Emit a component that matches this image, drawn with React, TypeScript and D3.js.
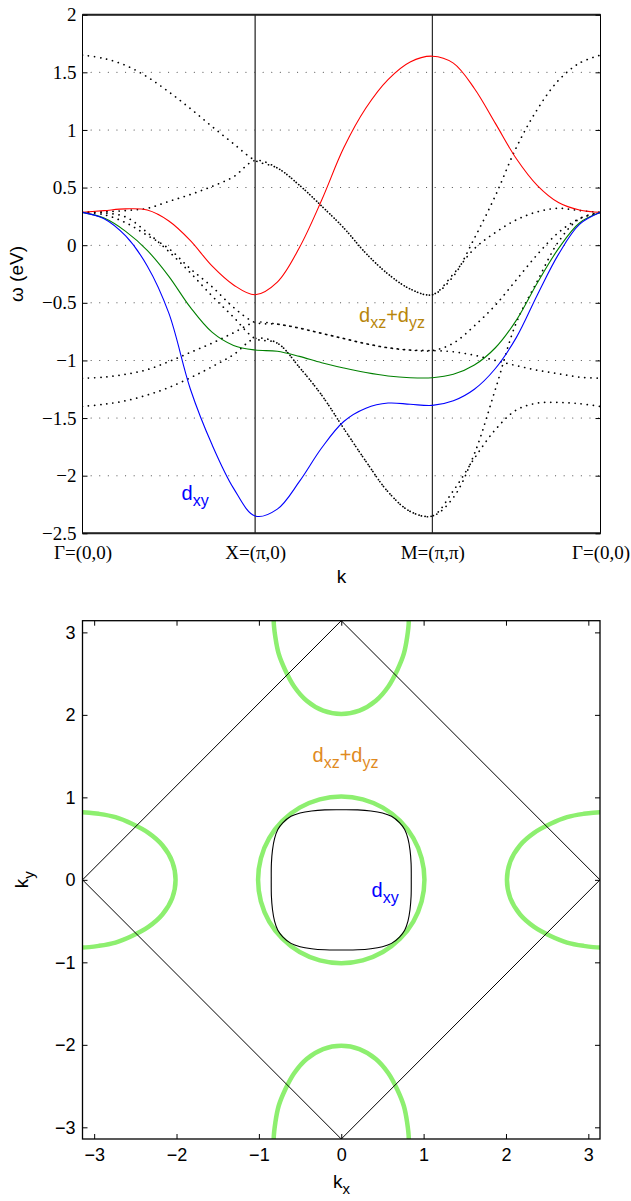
import React, { useEffect, useRef } from 'react';
import * as d3 from 'd3';

const PI = Math.PI;

// high-symmetry points along the path, in path units
const symK = [0, 1, 2.026, 3];
const symLabels = ['Γ=(0,0)', 'X=(π,0)', 'M=(π,π)', 'Γ=(0,0)'];
const stepsPerLeg = 8;

const omegaTicks = [2, 1.5, 1, 0.5, 0, -0.5, -1, -1.5, -2, -2.5];

// solid bands (eV), 8 samples per leg Γ-X-M-Γ
const redBand = [0.285, 0.3, 0.315, 0.305, 0.21, 0.04, -0.18, -0.345, -0.43,
  -0.32, -0.02, 0.39, 0.845, 1.19, 1.437, 1.59, 1.64,
  1.58, 1.36, 1.057, 0.75, 0.517, 0.37, 0.305, 0.285];
const greenBand = [0.285, 0.235, 0.12, -0.045, -0.27, -0.54, -0.755, -0.87, -0.91,
  -0.92, -0.965, -1.02, -1.065, -1.105, -1.135, -1.15, -1.15,
  -1.12, -1.04, -0.89, -0.65, -0.326, -0.03, 0.193, 0.285];
const blueBand = [0.285, 0.23, 0.08, -0.18, -0.59, -1.25, -1.73, -2.11, -2.35,
  -2.29, -2.05, -1.76, -1.53, -1.415, -1.37, -1.38, -1.39,
  -1.35, -1.25, -1.07, -0.8, -0.43, -0.08, 0.18, 0.285];

// dotted bands
const dotBand1 = [1.65, 1.62, 1.56, 1.46, 1.33, 1.185, 1.03, 0.88, 0.735,
  0.67, 0.52, 0.34, 0.15, -0.07, -0.25, -0.38, -0.43,
  -0.27, 0.06, 0.43, 0.85, 1.18, 1.43, 1.58, 1.65];
const dotBand2 = [0.285, 0.29, 0.3, 0.32, 0.38, 0.44, 0.51, 0.594, 0.735,
  0.67, 0.52, 0.34, 0.15, -0.07, -0.25, -0.38, -0.43,
  -0.25, -0.03, 0.11, 0.22, 0.29, 0.32, 0.3, 0.285];
const dotBand3 = [0.285, 0.265, 0.195, 0.085, -0.03, -0.205, -0.36, -0.54, -0.67,
  -0.685, -0.72, -0.765, -0.81, -0.855, -0.89, -0.91, -0.915,
  -0.85, -0.7, -0.52, -0.3, -0.08, 0.11, 0.23, 0.285];
const dotBand4 = [-1.155, -1.145, -1.12, -1.08, -1.01, -0.93, -0.85, -0.76, -0.67,
  -0.685, -0.72, -0.765, -0.81, -0.855, -0.89, -0.91, -0.915,
  -0.925, -0.955, -1.0, -1.045, -1.085, -1.115, -1.145, -1.155];
const dotBand5 = [0.285, 0.28, 0.245, 0.11, -0.055, -0.24, -0.44, -0.625, -0.81,
  -0.85, -1.06, -1.3, -1.59, -1.875, -2.14, -2.31, -2.35,
  -2.19, -1.81, -1.25, -0.67, -0.31, 0.03, 0.23, 0.285];
const dotBand6 = [-1.4, -1.38, -1.35, -1.3, -1.235, -1.15, -1.055, -0.95, -0.81,
  -0.85, -1.06, -1.3, -1.59, -1.875, -2.14, -2.31, -2.35,
  -2.13, -1.85, -1.6, -1.43, -1.37, -1.365, -1.375, -1.4];

const solidBands = [
  { values: redBand, color: '#ff0000' },
  { values: greenBand, color: '#008000' },
  { values: blueBand, color: '#0000ff' },
];
const dottedBands = [dotBand1, dotBand2, dotBand3, dotBand4, dotBand5, dotBand6];

// Fermi surface panel
const kTicks = [-3, -2, -1, 0, 1, 2, 3];
const bzCorners: [number, number][] = [[0, PI], [PI, 0], [0, -PI], [-PI, 0]];
// first quadrant of the dxy pocket, from +kx axis to +ky axis
const dxyQuarter: [number, number][] = [[0.85, 0], [0.848, 0.2], [0.835, 0.36], [0.81, 0.5],
  [0.77, 0.61], [0.71, 0.69], [0.61, 0.77], [0.5, 0.81], [0.36, 0.835], [0.2, 0.848], [0, 0.85]];
// first quadrant of the central green ring
const ringQuarter: [number, number][] = [[1.01, 0], [0.976, 0.261], [0.875, 0.505], [0.714, 0.714],
  [0.505, 0.875], [0.261, 0.976], [0, 1.01]];
// zone-edge pockets: [across, depth] from the zone boundary
const pocketQuarter: [number, number][] = [[0.82, 0], [0.8, 0.2], [0.76, 0.4], [0.68, 0.6],
  [0.57, 0.8], [0.42, 0.97], [0.22, 1.09], [0, 1.13]];
const pocketCenters: [number, number, string][] = [[0, PI, 'v'], [0, -PI, 'v'], [-PI, 0, 'h'], [PI, 0, 'h']];

const kGrid = d3.range(symK.length - 1)
  .flatMap((i) => d3.range(stepsPerLeg).map((j) => symK[i] + ((symK[i + 1] - symK[i]) * j) / stepsPerLeg))
  .concat(symK[symK.length - 1]);

function mirror(q: [number, number][]): [number, number][] {
  const n = q.length;
  const out: [number, number][] = [];
  q.forEach(([a, b]) => out.push([a, b]));
  for (let i = n - 2; i >= 0; i--) out.push([-q[i][0], q[i][1]]);
  for (let i = 1; i < n; i++) out.push([-q[i][0], -q[i][1]]);
  for (let i = n - 2; i >= 1; i--) out.push([q[i][0], -q[i][1]]);
  return out;
}

const SERIF = '"Liberation Serif", "Times New Roman", serif';
const SANS = '"Liberation Sans", Arial, Helvetica, sans-serif';

function subLabel(g: any, x: number, y: number, parts: [string, boolean][], color: string, size: number) {
  const t = g.append('text').attr('x', x).attr('y', y).attr('fill', color)
    .style('font-family', SANS).style('font-size', `${size}px`);
  let down = false;
  parts.forEach(([s, sub]) => {
    const ts = t.append('tspan').text(s);
    if (sub && !down) { ts.attr('dy', 6).style('font-size', `${size - 4}px`); down = true; }
    else if (!sub && down) { ts.attr('dy', -6); down = false; }
    else if (sub) ts.style('font-size', `${size - 4}px`);
  });
  return t;
}

function BandsAndFermi() {
  const ref = useRef<SVGSVGElement>(null);

  useEffect(() => {
    const svg = d3.select(ref.current);
    svg.selectAll('*').remove();

    // ---------- top: band structure ----------
    const tp = { left: 82.5, right: 600.5, top: 14.7, bottom: 533.3 };
    const x = d3.scaleLinear().domain([0, 3]).range([tp.left, tp.right]);
    const y = d3.scaleLinear().domain([-2.5, 2]).range([tp.bottom, tp.top]);

    svg.append('clipPath').attr('id', 'clipTop').append('rect')
      .attr('x', tp.left).attr('y', tp.top).attr('width', tp.right - tp.left).attr('height', tp.bottom - tp.top);

    const gTop = svg.append('g');

    gTop.append('g').selectAll('line')
      .data(omegaTicks.filter((d) => d < 2 && d > -2.5))
      .join('line')
      .attr('x1', tp.left).attr('x2', tp.right)
      .attr('y1', (d) => y(d)).attr('y2', (d) => y(d))
      .attr('stroke', '#444').attr('stroke-width', 1.1)
      .attr('stroke-linecap', 'round').attr('stroke-dasharray', '0.1,8.5');

    const bandLine = d3.line<number>()
      .x((d, i) => x(kGrid[i]))
      .y((d) => y(d))
      .curve(d3.curveCatmullRom.alpha(0.5));

    const plot = gTop.append('g').attr('clip-path', 'url(#clipTop)');

    plot.selectAll('path.dot')
      .data(dottedBands)
      .join('path')
      .attr('class', 'dot')
      .attr('d', (d) => bandLine(d))
      .attr('fill', 'none').attr('stroke', '#000').attr('stroke-width', 1.7)
      .attr('stroke-linecap', 'round').attr('stroke-dasharray', '0.1,6');

    // X and M markers
    plot.append('line').attr('x1', x(symK[1])).attr('x2', x(symK[1]))
      .attr('y1', tp.top).attr('y2', tp.bottom).attr('stroke', '#555').attr('stroke-width', 1.6);
    plot.append('line').attr('x1', x(symK[2])).attr('x2', x(symK[2]))
      .attr('y1', tp.top).attr('y2', tp.bottom).attr('stroke', '#000').attr('stroke-width', 1);

    plot.selectAll('path.solid')
      .data(solidBands)
      .join('path')
      .attr('class', 'solid')
      .attr('d', (d) => bandLine(d.values))
      .attr('fill', 'none').attr('stroke', (d) => d.color).attr('stroke-width', 1.1);

    gTop.append('rect').attr('x', tp.left).attr('y', tp.top)
      .attr('width', tp.right - tp.left).attr('height', tp.bottom - tp.top)
      .attr('fill', 'none').attr('stroke', '#000').attr('stroke-width', 1);
    [tp.top, tp.bottom].forEach((yy) => {
      gTop.append('line').attr('x1', tp.left).attr('x2', tp.right).attr('y1', yy).attr('y2', yy)
        .attr('stroke', '#222').attr('stroke-width', 2);
    });

    const yAxisTop = gTop.append('g').attr('transform', `translate(${tp.left},0)`)
      .call(d3.axisLeft(y).tickValues(omegaTicks).tickSize(-5).tickSizeOuter(0).tickPadding(6).tickFormat(d3.format('')));
    yAxisTop.select('.domain').remove();
    yAxisTop.selectAll('text').style('font-family', SERIF).style('font-size', '19px').attr('fill', '#000');

    const yAxisTopR = gTop.append('g').attr('transform', `translate(${tp.right},0)`)
      .call(d3.axisRight(y).tickValues(omegaTicks).tickSize(-5).tickSizeOuter(0).tickFormat(() => ''));
    yAxisTopR.select('.domain').remove();

    const xAxisTop = gTop.append('g').attr('transform', `translate(0,${tp.bottom})`)
      .call(d3.axisBottom(x).tickValues(symK).tickSize(0).tickSizeOuter(0).tickPadding(12)
        .tickFormat((d, i) => symLabels[i]));
    xAxisTop.select('.domain').remove();
    xAxisTop.selectAll('text').style('font-family', SERIF).style('font-size', '19px').attr('fill', '#000');

    gTop.append('text').attr('x', 341.5).attr('y', 583).attr('text-anchor', 'middle')
      .style('font-family', SANS).style('font-size', '19px').text('k');
    gTop.append('text').attr('transform', `translate(23,${(tp.top + tp.bottom) / 2}) rotate(-90)`)
      .attr('text-anchor', 'middle').style('font-family', SANS).style('font-size', '19px').text('ω (eV)');

    subLabel(gTop, 181.5, 500, [['d', false], ['xy', true]], '#0000ff', 20);
    subLabel(gTop, 359, 321.5, [['d', false], ['xz', true], ['+d', false], ['yz', true]], '#b8860b', 20);

    // ---------- bottom: Fermi surface ----------
    const bp = { left: 82.5, right: 600, top: 620.7, bottom: 1139 };
    const kx = d3.scaleLinear().domain([-PI, PI]).range([bp.left, bp.right]);
    const ky = d3.scaleLinear().domain([-PI, PI]).range([bp.bottom, bp.top]);

    svg.append('clipPath').attr('id', 'clipBot').append('rect')
      .attr('x', bp.left).attr('y', bp.top).attr('width', bp.right - bp.left).attr('height', bp.bottom - bp.top);

    const gBot = svg.append('g');
    const fs = gBot.append('g').attr('clip-path', 'url(#clipBot)');

    const closedLine = d3.line<[number, number]>()
      .x((d) => kx(d[0])).y((d) => ky(d[1]))
      .curve(d3.curveCatmullRomClosed.alpha(0.5));

    const ring = mirror(ringQuarter);
    const pocketRing = mirror(pocketQuarter);
    const pockets = pocketCenters.map(([cx, cy, o]) =>
      pocketRing.map(([a, dd]) => (o === 'v' ? [cx + a, cy + dd] : [cx + dd, cy + a]) as [number, number]));

    fs.selectAll('path.green')
      .data([ring, ...pockets])
      .join('path')
      .attr('class', 'green')
      .attr('d', (d) => closedLine(d))
      .attr('fill', 'none').attr('stroke', '#8def6f').attr('stroke-width', 4.5);

    fs.append('path')
      .attr('d', d3.line<[number, number]>().x((d) => kx(d[0])).y((d) => ky(d[1])).curve(d3.curveLinearClosed)(bzCorners))
      .attr('fill', 'none').attr('stroke', '#000').attr('stroke-width', 1);

    fs.append('path')
      .attr('d', closedLine(mirror(dxyQuarter)))
      .attr('fill', 'none').attr('stroke', '#000').attr('stroke-width', 1.1);

    gBot.append('rect').attr('x', bp.left).attr('y', bp.top)
      .attr('width', bp.right - bp.left).attr('height', bp.bottom - bp.top)
      .attr('fill', 'none').attr('stroke', '#000').attr('stroke-width', 1.3);

    const axes = [
      { axis: d3.axisLeft(ky), t: `translate(${bp.left},0)`, labels: true, pad: 7 },
      { axis: d3.axisRight(ky), t: `translate(${bp.right},0)`, labels: false, pad: 0 },
      { axis: d3.axisBottom(kx), t: `translate(0,${bp.bottom})`, labels: true, pad: 9 },
      { axis: d3.axisTop(kx), t: `translate(0,${bp.top})`, labels: false, pad: 0 },
    ];
    axes.forEach(({ axis, t, labels, pad }) => {
      const g = gBot.append('g').attr('transform', t)
        .call(axis.tickValues(kTicks).tickSize(-5).tickSizeOuter(0).tickPadding(pad)
          .tickFormat(labels ? d3.format('') : () => ''));
      g.select('.domain').remove();
      g.selectAll('text').style('font-family', SANS).style('font-size', '18px').attr('fill', '#000');
    });

    const kxLab = gBot.append('text').attr('x', 341.5).attr('y', 1188).attr('text-anchor', 'middle')
      .style('font-family', SANS).style('font-size', '19px');
    kxLab.append('tspan').text('k');
    kxLab.append('tspan').attr('dy', 6).style('font-size', '15px').text('x');

    const kyLab = gBot.append('text').attr('transform', `translate(28,${(bp.top + bp.bottom) / 2}) rotate(-90)`)
      .attr('text-anchor', 'middle').style('font-family', SANS).style('font-size', '19px');
    kyLab.append('tspan').text('k');
    kyLab.append('tspan').attr('dy', 6).style('font-size', '15px').text('y');

    subLabel(gBot, 312.5, 761.5, [['d', false], ['xz', true], ['+d', false], ['yz', true]], '#e08a1e', 20);
    subLabel(gBot, 371.5, 896.5, [['d', false], ['xy', true]], '#0000ff', 20);
  }, []);

  return (
    <svg ref={ref} width={631} height={1201}
      style={{ position: 'absolute', left: 0, top: 0, background: '#fff' }} />
  );
}

export default function App() {
  return <BandsAndFermi />;
}
